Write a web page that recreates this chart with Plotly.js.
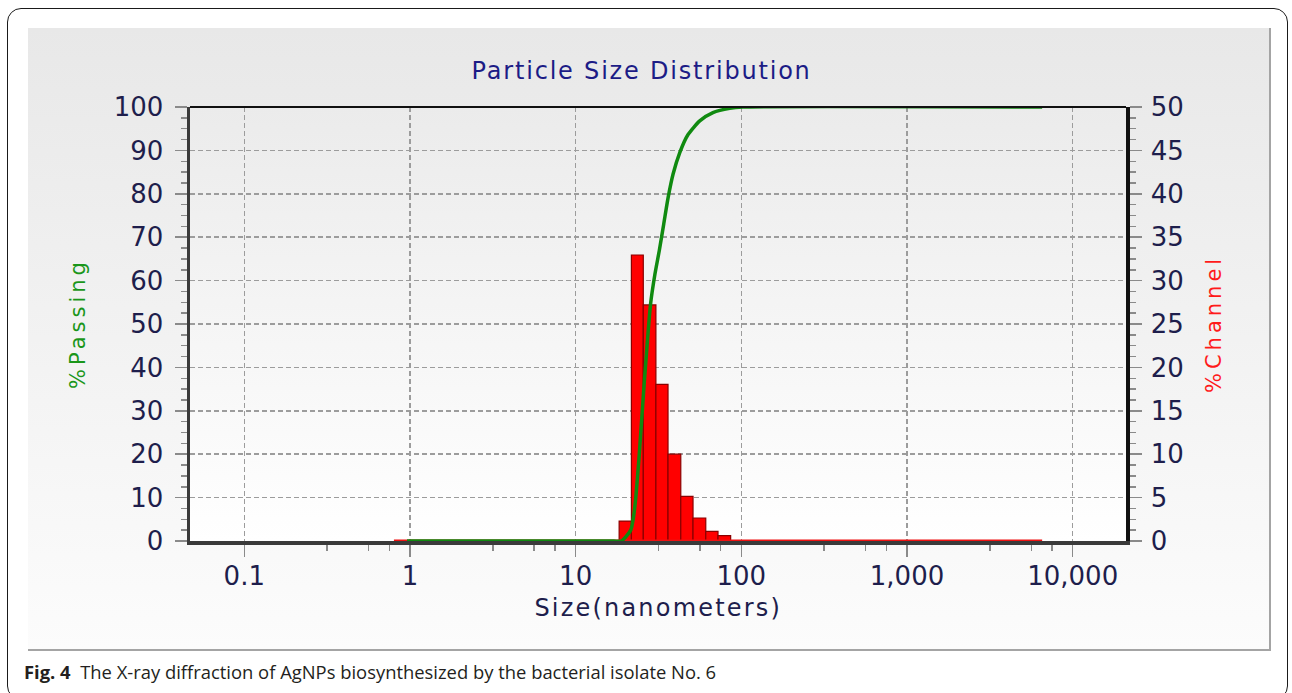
<!DOCTYPE html>
<html>
<head>
<meta charset="utf-8">
<script src="https://cdn.plot.ly/plotly-3.0.1.min.js"></script>
<style>
  html, body { margin: 0; padding: 0; background: #ffffff; }
  #wrap { position: relative; width: 1292px; height: 693px; overflow: hidden; background: #ffffff; }
  #frame { position: absolute; left: 7px; top: 8px; width: 1281px; height: 692px; border: 1.5px solid #1a1a1a; border-radius: 14px; box-sizing: border-box; }
  #panel { position: absolute; left: 28px; top: 28px; width: 1243px; height: 623px; background: linear-gradient(#e8e8e8, #fcfcfc); border-right: 2px solid #a4a4a4; border-bottom: 2px solid #a4a4a4; box-sizing: border-box; }
  #plotbg { position: absolute; left: 190px; top: 107px; width: 936px; height: 434px; background: linear-gradient(#ebebeb, #ffffff); }
  #chart { position: absolute; left: 0; top: 0; width: 1292px; height: 693px; }
  .annotation[data-index="0"] text { letter-spacing: 1.8px; }
  .annotation[data-index="1"] text { letter-spacing: 2.2px; }
  .annotation[data-index="2"] text { letter-spacing: 4px; }
  .annotation[data-index="3"] text { letter-spacing: 4px; }
</style>
</head>
<body>
<div id="wrap">
  <div id="frame"></div>
  <div id="panel"></div>
  <div id="plotbg"></div>
  <div id="chart"></div>
</div>
<script>
// ---- data ----
const sizeTicks = [0.1, 1, 10, 100, 1000, 10000];
const sizeTickText = ['0.1', '1', '10', '100', '1,000', '10,000'];
const passingTicks = [0, 10, 20, 30, 40, 50, 60, 70, 80, 90, 100];
const channelTicks = [0, 5, 10, 15, 20, 25, 30, 35, 40, 45, 50];

// histogram channel edges (nm) and % in each channel
const binEdges = [18.3, 21.7, 25.6, 30.5, 36.1, 43.1, 51.1, 61.0, 72.3, 86.2];
const channelPct = [2.3, 32.95, 27.2, 18.05, 10.0, 5.15, 2.65, 1.12, 0.62];

// channels with zero content across the measured range
const baselineSize = [0.8, 6540];
const baselineChannel = [0, 0];

// cumulative % passing curve
const passingSize = [0.96, 10.0, 17.0, 18.9, 21.5, 22.3, 23.1, 24.2, 25.9, 28.3, 30.1, 32.0, 34.0, 36.1, 38.7, 42.5, 47.6, 56.1, 67.4, 85.1, 102, 6540];
const passingPct  = [0,    0,    0,    0,    2.5,  5.3,  10.3, 19.9, 36.1, 54.5, 61.5, 67.0, 73.0, 79.0, 84.5, 89.5, 93.6, 96.8, 98.7, 99.7, 100, 100];

// ---- build ----
const barX = [], barW = [];
for (let i = 0; i < channelPct.length; i++) {
  barX.push((binEdges[i] + binEdges[i + 1]) / 2);
  barW.push(binEdges[i + 1] - binEdges[i]);
}

// minor tick positions on the size axis (1/2, 3/4 and 7/8 of each decade)
const minorSize = [];
for (let d = -1; d <= 3; d++) {
  [0.5, 0.75, 0.875].forEach(f => minorSize.push(Math.pow(10, d + f)));
}

// plot area geometry (px) -> paper coordinates
const L = 190, R = 166, T = 107, B = 152, FW = 1292, FH = 693;
const PW = FW - L - R, PH = FH - T - B;
const px = x => (x - L) / PW;
const py = y => (FH - B - y) / PH;

const tickFont = { family: 'DejaVu Sans', size: 26, color: '#1e1e4c' };

const traces = [
  {
    type: 'bar', x: barX, y: channelPct, width: barW,
    xaxis: 'x', yaxis: 'y',
    marker: { color: '#ff0000', line: { color: '#8a0000', width: 1.2 } },
    hoverinfo: 'skip'
  },
  // zero baseline shares the overlay subplot so the passing curve stays above it (0 is the same height on both scales)
  {
    type: 'scatter', mode: 'lines', x: baselineSize, y: baselineChannel,
    xaxis: 'x', yaxis: 'y2', cliponaxis: false,
    line: { color: '#ee1111', width: 3 }, hoverinfo: 'skip'
  },
  {
    type: 'scatter', mode: 'lines', x: passingSize, y: passingPct,
    xaxis: 'x', yaxis: 'y2', cliponaxis: false,
    line: { color: '#108a10', width: 3.5, shape: 'spline', smoothing: 0.6 },
    hoverinfo: 'skip'
  }
];

const gridStyle = { showgrid: true, gridcolor: '#9c9c9c', gridwidth: 1.5, griddash: '5px,3px' };

const layout = {
  width: FW, height: FH,
  margin: { l: L, r: R, t: T, b: B, pad: 0 },
  paper_bgcolor: 'rgba(0,0,0,0)',
  plot_bgcolor: 'rgba(0,0,0,0)',
  showlegend: false,
  bargap: 0,
  xaxis: Object.assign({
    type: 'log', range: [-1.3277, 4.3217],
    tickmode: 'array', tickvals: sizeTicks, ticktext: sizeTickText,
    ticks: 'outside', ticklen: 12, tickwidth: 1.5, tickcolor: '#8a8a8a',
    ticklabelstandoff: -3,
    tickfont: tickFont,
    minor: { tickmode: 'array', tickvals: minorSize, ticks: 'outside', ticklen: 6, tickwidth: 1.5, tickcolor: '#8a8a8a', showgrid: false },
    showline: true, linecolor: '#3a3a3a', linewidth: 3.5,
    zeroline: false, layer: 'below traces', fixedrange: true
  }, gridStyle),
  yaxis: Object.assign({
    range: [0, 50], side: 'right',
    tickmode: 'array', tickvals: channelTicks,
    ticks: 'outside', ticklen: 12, tickwidth: 1.5, tickcolor: '#8a8a8a',
    ticklabelstandoff: 4,
    tickfont: tickFont,
    minor: { dtick: 1.25, tick0: 0, ticks: 'outside', ticklen: 6, tickwidth: 1.5, tickcolor: '#8a8a8a', showgrid: false },
    showline: true, linecolor: '#111111', linewidth: 3.5,
    zeroline: false, layer: 'below traces', fixedrange: true
  }, gridStyle),
  yaxis2: {
    range: [0, 100], side: 'left', overlaying: 'y',
    tickmode: 'array', tickvals: passingTicks,
    ticks: 'outside', ticklen: 12, tickwidth: 1.5, tickcolor: '#8a8a8a',
    ticklabelstandoff: 6,
    tickfont: tickFont,
    minor: { dtick: 2.5, tick0: 0, ticks: 'outside', ticklen: 6, tickwidth: 1.5, tickcolor: '#8a8a8a', showgrid: false },
    showgrid: false,
    showline: true, linecolor: '#3a3a3a', linewidth: 3.5,
    zeroline: false, layer: 'below traces', fixedrange: true
  },
  shapes: [
    { type: 'line', xref: 'paper', yref: 'paper', x0: 0, x1: 1, y0: 1, y1: 1, line: { color: '#111111', width: 2 } }
  ],
  annotations: [
    { text: 'Particle Size Distribution', xref: 'paper', yref: 'paper', x: px(641.5), y: py(71), xanchor: 'center', yanchor: 'middle', showarrow: false,
      font: { family: 'DejaVu Sans', size: 24, color: '#1c1c86' } },
    { text: 'Size(nanometers)', xref: 'paper', yref: 'paper', x: px(658), y: py(608), xanchor: 'center', yanchor: 'middle', showarrow: false,
      font: { family: 'DejaVu Sans', size: 24, color: '#1e1e4c' } },
    { text: '%Passing', xref: 'paper', yref: 'paper', x: px(78), y: py(324), xanchor: 'center', yanchor: 'middle', textangle: -90, showarrow: false,
      font: { family: 'DejaVu Sans', size: 21, color: '#1a961a' } },
    { text: '%Channel', xref: 'paper', yref: 'paper', x: px(1214), y: py(324), xanchor: 'center', yanchor: 'middle', textangle: -90, showarrow: false,
      font: { family: 'DejaVu Sans', size: 21, color: '#ff1a1a' } },
    { text: '<b>Fig. 4</b>\u00a0\u00a0The X-ray diffraction of AgNPs biosynthesized by the bacterial isolate No. 6', xref: 'paper', yref: 'paper',
      x: px(22), y: py(671), xanchor: 'left', yanchor: 'middle', showarrow: false,
      font: { family: 'Open Sans', size: 18.4, color: '#231f20' } }
  ]
};

Plotly.newPlot('chart', traces, layout, { staticPlot: true, displayModeBar: false });
</script>
</body>
</html>
